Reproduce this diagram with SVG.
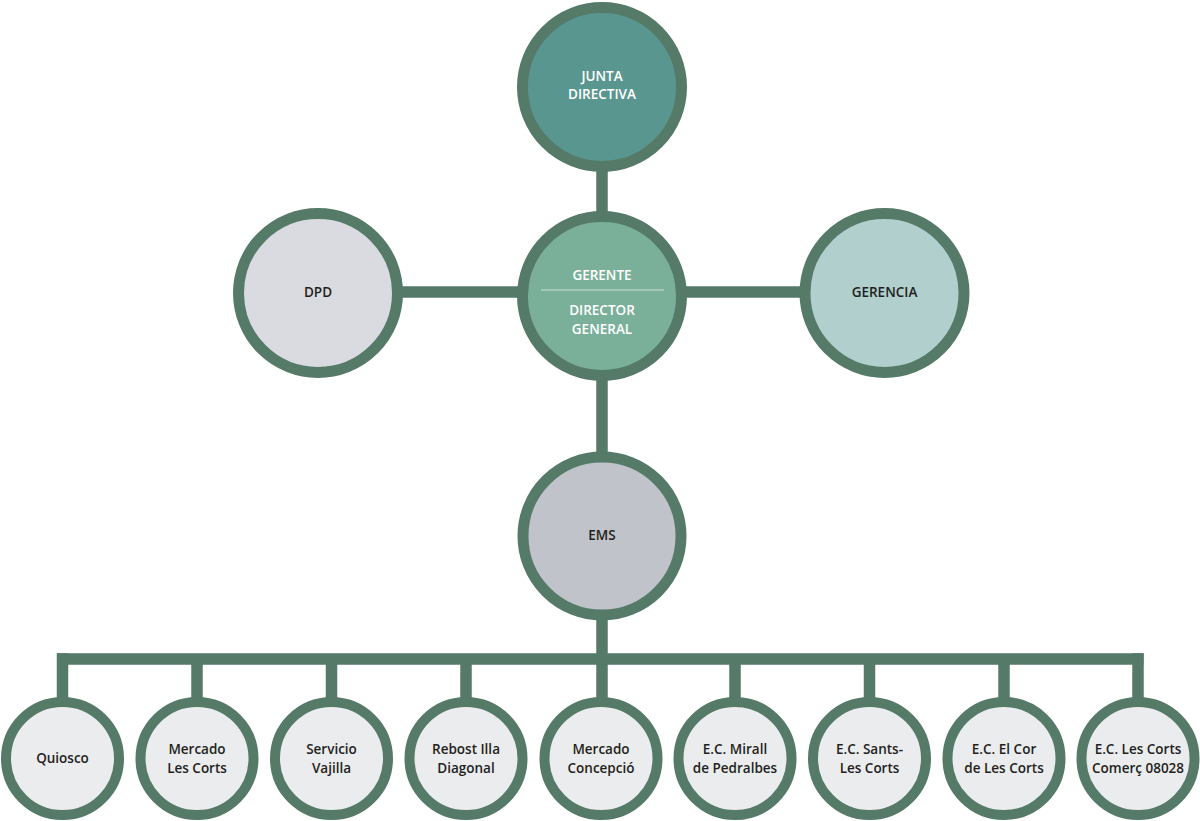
<svg xmlns="http://www.w3.org/2000/svg" width="1200" height="821" viewBox="0 0 1200 821">
<style>
.big{stroke:#557a68;stroke-width:11}
.small{stroke:#557a68;stroke-width:10;fill:#ebecee}
.conn line{stroke:#557a68;stroke-width:11.5}
text{font-family:"Open Sans","Liberation Sans",sans-serif;font-weight:600;font-size:13.5px;text-anchor:middle}
.w{fill:#ffffff}
.d{fill:#231f20}
</style>
<rect width="1200" height="821" fill="#ffffff"/>
<g id="connectors" class="conn">
<line x1="602" y1="160" x2="602" y2="225"/>
<line x1="395" y1="292" x2="525" y2="292"/>
<line x1="680" y1="292" x2="808" y2="292"/>
<line x1="602" y1="370" x2="602" y2="460"/>
<line x1="602" y1="610" x2="602" y2="705"/>
<line x1="57" y1="659" x2="1143.5" y2="659"/>
<line x1="62.5" y1="653.25" x2="62.5" y2="705"/>
<line x1="197" y1="659" x2="197" y2="705"/>
<line x1="331.5" y1="659" x2="331.5" y2="705"/>
<line x1="466" y1="659" x2="466" y2="705"/>
<line x1="735" y1="659" x2="735" y2="705"/>
<line x1="869.5" y1="659" x2="869.5" y2="705"/>
<line x1="1004" y1="659" x2="1004" y2="705"/>
<line x1="1138" y1="653.25" x2="1138" y2="705"/>
</g>
<g id="junta">
<circle class="big" cx="602" cy="87" r="79.5" fill="#5a9690"/>
<text class="w" x="602" y="81">JUNTA</text>
<text class="w" x="602" y="99">DIRECTIVA</text>
</g>
<g id="gerente">
<circle class="big" cx="602" cy="296" r="79.5" fill="#7ab09a"/>
<text class="w" x="602" y="280">GERENTE</text>
<line x1="541" y1="290" x2="664" y2="290" stroke="#ffffff" stroke-opacity="0.6" stroke-width="1"/>
<text class="w" x="602" y="315">DIRECTOR</text>
<text class="w" x="602" y="334">GENERAL</text>
</g>
<g id="dpd">
<circle class="big" cx="318" cy="293" r="79.5" fill="#d9dbe0"/>
<text class="d" x="318" y="297">DPD</text>
</g>
<g id="gerencia">
<circle class="big" cx="884.5" cy="293" r="79.5" fill="#b0cfcd"/>
<text class="d" x="884.5" y="297">GERENCIA</text>
</g>
<g id="ems">
<circle class="big" cx="602" cy="536" r="79" fill="#c0c3ca"/>
<text class="d" x="602" y="540">EMS</text>
</g>
<g id="quiosco">
<circle class="small" cx="62.5" cy="758.5" r="56.5"/>
<text class="d" x="62.5" y="763">Quiosco</text>
</g>
<g id="mercado-les-corts">
<circle class="small" cx="197" cy="758.5" r="56.5"/>
<text class="d" x="197" y="754">Mercado</text>
<text class="d" x="197" y="773">Les Corts</text>
</g>
<g id="servicio-vajilla">
<circle class="small" cx="331.5" cy="758.5" r="56.5"/>
<text class="d" x="331.5" y="754">Servicio</text>
<text class="d" x="331.5" y="773">Vajilla</text>
</g>
<g id="rebost">
<circle class="small" cx="466" cy="758.5" r="56.5"/>
<text class="d" x="466" y="754">Rebost Illa</text>
<text class="d" x="466" y="773">Diagonal</text>
</g>
<g id="mercado-concepcio">
<circle class="small" cx="601" cy="758.5" r="56.5"/>
<text class="d" x="601" y="754">Mercado</text>
<text class="d" x="601" y="773">Concepció</text>
</g>
<g id="mirall">
<circle class="small" cx="735" cy="758.5" r="56.5"/>
<text class="d" x="735" y="754">E.C. Mirall</text>
<text class="d" x="735" y="773">de Pedralbes</text>
</g>
<g id="sants">
<circle class="small" cx="869.5" cy="758.5" r="56.5"/>
<text class="d" x="869.5" y="754">E.C. Sants-</text>
<text class="d" x="869.5" y="773">Les Corts</text>
</g>
<g id="el-cor">
<circle class="small" cx="1004" cy="758.5" r="56.5"/>
<text class="d" x="1004" y="754">E.C. El Cor</text>
<text class="d" x="1004" y="773">de Les Corts</text>
</g>
<g id="les-corts-comerc">
<circle class="small" cx="1138" cy="758.5" r="56.5"/>
<text class="d" x="1138" y="754">E.C. Les Corts</text>
<text class="d" x="1138" y="773">Comerç 08028</text>
</g>
</svg>
